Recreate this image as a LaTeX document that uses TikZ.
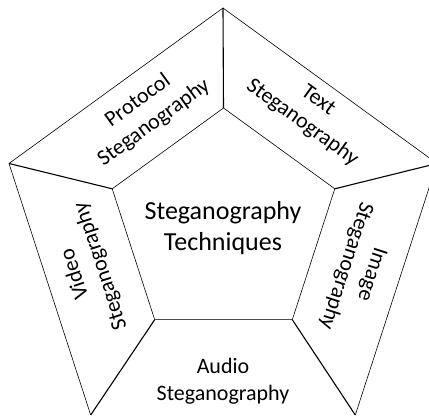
\documentclass[tikz,border=0pt]{standalone}
\usepackage{fontspec}
\setmainfont{Carlito}
\begin{document}
\begin{tikzpicture}[x=1pt,y=1pt,
  edge/.style={line width=0.6pt},
  spoke/.style={line width=1.1pt},
  lbl/.style={align=center,inner sep=0pt,font=\fontsize{22}{27}\selectfont},
  ctr/.style={align=center,inner sep=0pt,font=\fontsize{26}{31}\selectfont}]
\useasboundingbox (0,0) rectangle (429,417);
\clip (0,0) rectangle (429,417);
% outer pentagon
\coordinate (o1) at (223,409);
\coordinate (o2) at (437,253.5);
\coordinate (o3) at (355.3,2);
\coordinate (o4) at (90.7,2);
\coordinate (o5) at (9,253.5);
% inner pentagon
\coordinate (i1) at (223.5,309);
\coordinate (i2) at (334.8,228.2);
\coordinate (i3) at (292.3,97.3);
\coordinate (i4) at (154.7,97.3);
\coordinate (i5) at (112.2,228.2);
% edges
\draw[edge] (o4) -- (o5) -- (o1) -- (o2) -- (o3);
\draw[edge] (i1) -- (i2) -- (i3);
\draw[edge] (i4) -- (i5) -- (i1);
\draw[edge,black!70] (i3) -- (i4);
% spokes
\draw[spoke] (i1) -- (o1);
\draw[spoke] (i2) -- (o2);
\draw[spoke] (i3) -- (o3);
\draw[spoke] (i4) -- (o4);
\draw[spoke] (i5) -- (o5);
% labels
\node[ctr] (core) at (223,189) {Steganography\\Techniques};
\node[lbl] (audio) at (223,36) {Audio\\Steganography};
\node[lbl,rotate=36] (protocol) at (146,305) {Protocol\\Steganography};
\node[lbl,rotate=-36] (text) at (310,305) {Text\\Steganography};
\node[lbl,rotate=108] (video) at (88,147) {Video\\Steganography};
\node[lbl,rotate=-108] (image) at (358.5,147) {Image\\Steganography};
\end{tikzpicture}
\end{document}
